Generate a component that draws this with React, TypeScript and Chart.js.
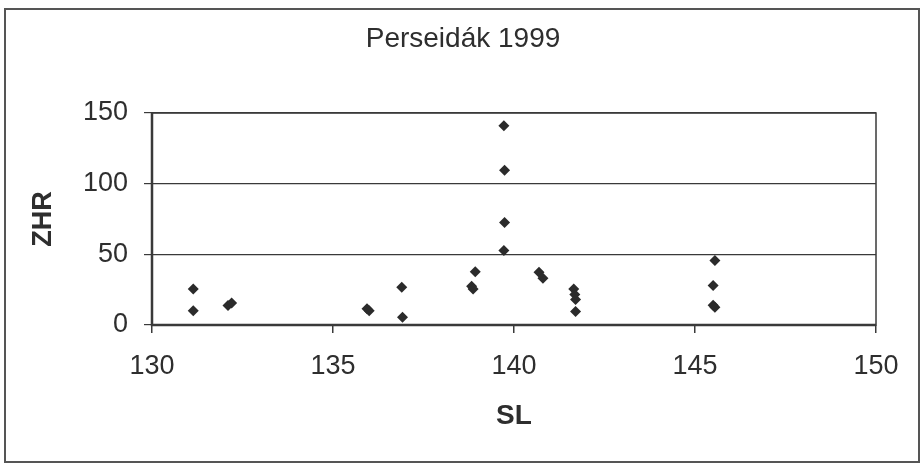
import React, { useEffect, useRef } from "react";
import { Chart, registerables } from "chart.js";

Chart.register(...registerables);

const chartTitle = "Perseidák 1999";
const xAxisTitle = "SL";
const yAxisTitle = "ZHR";

const slValues = [
  131.14, 131.14, 132.1, 132.2, 135.94, 136.0, 136.9, 136.92,
  138.83, 138.87, 138.93, 139.72, 139.74, 139.74, 139.72,
  140.69, 140.8, 141.65, 141.68, 141.7, 141.7,
  145.55, 145.5, 145.55, 145.5,
];
const zhrValues = [
  25.5, 10, 13.8, 15.5, 11.5, 10, 26.7, 5.5,
  27.5, 25.5, 37.6, 141, 109.5, 72.5, 52.7,
  37.4, 33, 25.5, 21.5, 18, 9.5,
  45.6, 28, 12.5, 14,
];

const xMin = 130;
const xMax = 150;
const xStep = 5;
const yMin = 0;
const yMax = 150;
const yStep = 50;

const textColor = "#2e2e2e";
const lineColor = "#3a3a3a";
const font = "'Liberation Sans', Arial, sans-serif";

export default function App() {
  const canvasRef = useRef<HTMLCanvasElement | null>(null);

  useEffect(() => {
    const canvas = canvasRef.current;
    if (!canvas) return;

    const framePlugin = {
      id: "frame",
      beforeDraw(chart: any) {
        const ctx = chart.ctx;
        ctx.save();
        ctx.fillStyle = "#ffffff";
        ctx.fillRect(0, 0, chart.width, chart.height);
        ctx.strokeStyle = "#555555";
        ctx.lineWidth = 2;
        ctx.strokeRect(5, 9, 914, 453);
        ctx.fillStyle = textColor;
        ctx.font = `28px ${font}`;
        ctx.textAlign = "center";
        ctx.textBaseline = "middle";
        ctx.fillText(chartTitle, 463, 39);
        ctx.restore();
      },
      afterDatasetsDraw() {},
      beforeDatasetsDraw(chart: any) {
        const { ctx, chartArea } = chart;
        ctx.save();
        ctx.strokeStyle = lineColor;
        ctx.lineWidth = 1.5;
        ctx.strokeRect(
          chartArea.left,
          chartArea.top,
          chartArea.right - chartArea.left,
          chartArea.bottom - chartArea.top
        );
        ctx.lineWidth = 2.5;
        ctx.beginPath();
        ctx.moveTo(chartArea.left, chartArea.top);
        ctx.lineTo(chartArea.left, chartArea.bottom);
        ctx.lineTo(chartArea.right, chartArea.bottom);
        ctx.stroke();
        ctx.restore();
      },
    };

    const points = slValues.map((x, i) => ({ x, y: zhrValues[i] }));

    const chart = new Chart(canvas, {
      type: "scatter",
      data: {
        datasets: [
          {
            label: yAxisTitle,
            data: points,
            pointStyle: "rectRot",
            pointRadius: 5.5,
            pointBackgroundColor: "#2b2b2b",
            pointBorderColor: "#2b2b2b",
            pointBorderWidth: 0,
          },
        ],
      },
      options: {
        responsive: false,
        animation: false,
        devicePixelRatio: 1,
        layout: { padding: { left: 0, right: 45, top: 113, bottom: 0 } },
        plugins: {
          legend: { display: false },
          title: { display: false },
          tooltip: { enabled: false },
        },
        scales: {
          x: {
            type: "linear",
            min: xMin,
            max: xMax,
            afterFit(scale: any) {
              scale.height = 139;
            },
            ticks: {
              stepSize: xStep,
              color: textColor,
              font: { family: font, size: 27 },
              padding: 17,
              maxRotation: 0,
            },
            grid: {
              drawOnChartArea: false,
              drawTicks: true,
              tickLength: 8,
              color: lineColor,
              lineWidth: 1.5,
            },
            border: { display: false },
            title: {
              display: true,
              text: xAxisTitle,
              color: textColor,
              font: { family: font, size: 28, weight: "bold" },
              padding: { top: 0, bottom: 31 },
            },
          },
          y: {
            type: "linear",
            min: yMin,
            max: yMax,
            afterFit(scale: any) {
              scale.width = 152;
            },
            ticks: {
              stepSize: yStep,
              color: textColor,
              font: { family: font, size: 27 },
              padding: 16,
            },
            grid: {
              drawOnChartArea: true,
              drawTicks: true,
              tickLength: 8,
              color: lineColor,
              lineWidth: 1.2,
            },
            border: { display: false },
            title: {
              display: true,
              text: yAxisTitle,
              color: textColor,
              font: { family: font, size: 27, weight: "bold" },
              padding: { top: 27, bottom: 0 },
            },
          },
        },
      },
      plugins: [framePlugin],
    });

    return () => chart.destroy();
  }, []);

  return (
    <div style={{ position: "absolute", left: 0, top: 0, width: 921, height: 464, background: "#fff" }}>
      <canvas ref={canvasRef} width={921} height={464} style={{ display: "block" }} />
    </div>
  );
}
